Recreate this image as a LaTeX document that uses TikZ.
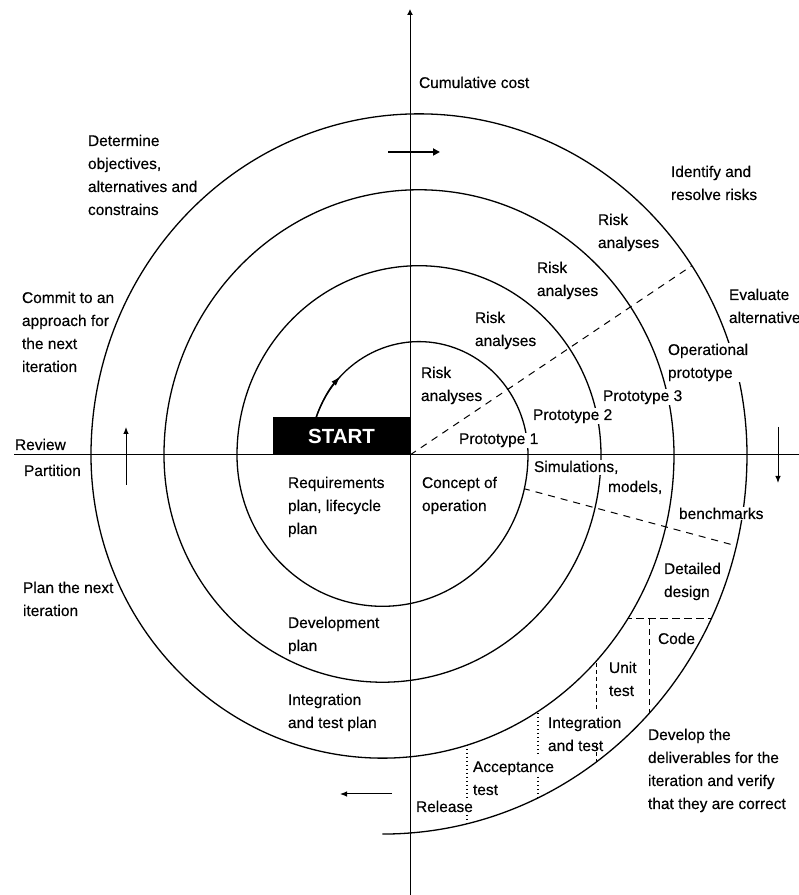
\documentclass[tikz,border=0pt]{standalone}
\usepackage{fontspec}
\setmainfont{Liberation Sans}
\newfontfamily\lblfont{Liberation Sans}[FakeBold=0.35]
\usetikzlibrary{arrows.meta}
\begin{document}
\begin{tikzpicture}[x=1pt,y=1pt,
  lbl/.style={font=\lblfont\fontsize{15.5}{23}\selectfont, align=left, anchor=base west, inner sep=0.8pt},
  wlbl/.style={lbl, fill=white},
  spiral/.style={line width=1.3pt},
  axisline/.style={line width=1pt},
  rdash/.style={line width=1pt, dash pattern=on 7pt off 6pt},
  hdash/.style={line width=1pt, dash pattern=on 8pt off 4pt},
  vdash/.style={line width=1pt, dash pattern=on 6pt off 4pt},
  sdash/.style={line width=1pt, dash pattern=on 4pt off 3pt},
  dots/.style={line width=1.1pt, dash pattern=on 1.5pt off 2.5pt},
  arr/.style={line width=1pt, -{Latex[length=7pt,width=5.5pt]}},
  thickarr/.style={line width=1.8pt, -{Triangle[length=7pt,width=7pt]}},
  startbox/.style={fill=black, text=white, minimum width=137pt, minimum height=38pt, inner sep=0pt,
    font=\bfseries\fontsize{20.5}{20.5}\selectfont}
]
\useasboundingbox (0,0) rectangle (799,895);

% spiral
\draw[spiral] (316.3,478)
  arc[start angle=160.42, end angle=0, x radius=109, y radius=113.36]
  arc[start angle=0, end angle=-180, x radius=145.5, y radius=151.32]
  arc[start angle=180, end angle=0, x radius=182, y radius=189.28]
  arc[start angle=0, end angle=-180, x radius=218.5, y radius=227.24]
  arc[start angle=180, end angle=0, x radius=255, y radius=265.2]
  arc[start angle=0, end angle=-180, x radius=291.5, y radius=303.16]
  arc[start angle=180, end angle=0, x radius=328, y radius=341.12]
  arc[start angle=0, end angle=-90, x radius=364.5, y radius=379.08];
\draw[spiral, -{Latex[length=10pt,width=6pt]}] (316.3,478)
  arc[start angle=160.42, end angle=136, x radius=109, y radius=113.36];

% axes
\draw[axisline] (14,440) -- (799,440);
\draw[axisline, -{Latex[length=6pt,width=6pt]}] (410,0) -- (410,886);

% radial dashed line in upper right
\begin{scope}
  \clip (419,440) ellipse[x radius=328, y radius=341.12];
  \draw[rdash] (410,440) -- (742,663);
\end{scope}
% radial dashed line in lower right
\begin{scope}[even odd rule]
  \clip (382.5,440) ellipse[x radius=364.5, y radius=379.08]
    (382.5,440) ellipse[x radius=145.5, y radius=151.32];
  \draw[rdash] (410,437) -- (800,332);
\end{scope}
% dividers of the development band
\begin{scope}[even odd rule]
  \clip (382.5,440) ellipse[x radius=364.5, y radius=379.08]
    (382.5,440) ellipse[x radius=291.5, y radius=303.16];
  \draw[hdash] (600,276) -- (780,276);
  \draw[vdash] (649,276) -- (649,40);
  \draw[sdash] (596,330) -- (596,185) (596,150) -- (596,40);
  \draw[dots] (538,330) -- (538,140) (538,118) -- (538,20);
  \draw[dots] (467,330) -- (467,97) (467,80) -- (467,0);
\end{scope}

% arrows
\draw[arr] (126,410) -- (126,468);
\draw[arr] (778,468) -- (778,412);
\draw[arr] (392,101) -- (340,101);
\draw[thickarr] (388,743) -- (440,743);

% start box
\node[startbox] (start) at (341.5,459) {START};

% labels (base anchor = baseline of last line)
\node[lbl] (cost) at (418,807) {Cumulative cost};
\node[lbl] (determine) at (87,680) {Determine\\objectives,\\alternatives and\\constrains};
\node[lbl] (commit) at (21,523) {Commit to an\\approach for\\the next\\iteration};
\node[lbl] (identify) at (670,695) {Identify and\\resolve risks};
\node[lbl] (risk4) at (597,647) {Risk\\analyses};
\node[lbl] (risk3) at (536,599) {Risk\\analyses};
\node[lbl] (risk2) at (474,549) {Risk\\analyses};
\node[lbl] (risk1) at (420,494) {Risk\\analyses};
\node[lbl] (evaluate) at (728,572) {Evaluate\\alternative};
\node[wlbl] (oper) at (667,517) {Operational\\prototype};
\node[wlbl] (proto3) at (602,494) {Prototype 3};
\node[wlbl] (proto2) at (532,475) {Prototype 2};
\node[wlbl] (proto1) at (458,451) {Prototype 1};
\node[lbl] (review) at (14,445) {Review};
\node[lbl] (partition) at (23,419) {Partition};
\node[wlbl] (simul) at (533,423) {Simulations,};
\node[lbl] (models) at (607,403) {models,};
\node[wlbl] (bench) at (678,376) {benchmarks};
\node[lbl] (req) at (287,361) {Requirements\\plan, lifecycle\\plan};
\node[lbl] (concept) at (421,384) {Concept of\\operation};
\node[lbl] (devplan) at (287,244) {Development\\plan};
\node[lbl] (itplan) at (287,167) {Integration\\and test plan};
\node[lbl] (plannext) at (22,279) {Plan the next\\iteration};
\node[lbl] (detailed) at (663,298) {Detailed\\design};
\node[lbl] (code) at (657,251) {Code};
\node[lbl] (unit) at (608,199) {Unit\\test};
\node[lbl] (integ) at (547,144) {Integration\\and test};
\node[lbl] (accept) at (472,100) {Acceptance\\test};
\node[lbl] (release) at (415,83) {Release};
\node[lbl] (develop) at (647,86) {Develop the\\deliverables for the\\iteration and verify\\that they are correct};
\end{tikzpicture}
\end{document}
